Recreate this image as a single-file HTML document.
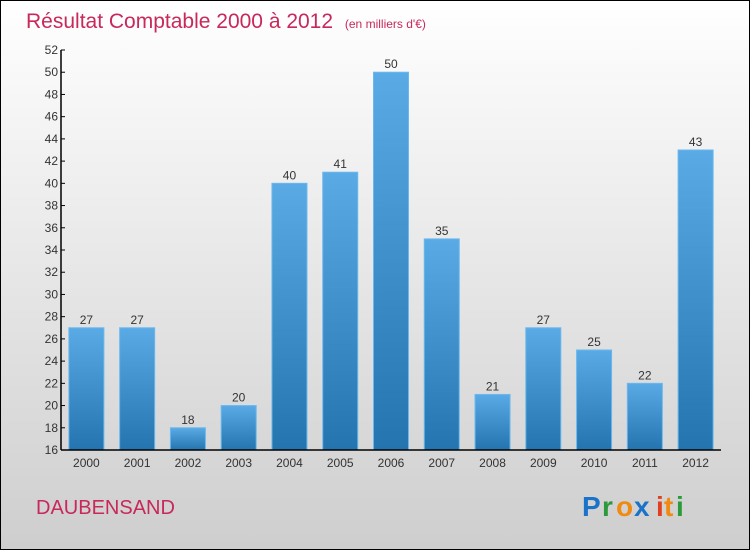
<!DOCTYPE html>
<html><head><meta charset="utf-8"><style>
body{margin:0}
#c{width:750px;height:550px;position:relative;font-family:"Liberation Sans",sans-serif}
</style></head><body>
<div id="c">
<svg width="750" height="550" id="svg">
<defs>
<linearGradient id="bg" x1="0" y1="0" x2="0" y2="1"><stop offset="0" stop-color="#ffffff"/><stop offset="1" stop-color="#cecece"/></linearGradient>
<linearGradient id="bar" x1="0" y1="0" x2="0" y2="1"><stop offset="0" stop-color="#5aaae6"/><stop offset="1" stop-color="#2474b0"/></linearGradient>
</defs>
<rect x="0.5" y="0.5" width="749" height="549" fill="url(#bg)" stroke="#000"/>
<text x="26" y="28" font-size="21" fill="#c8285a">Résultat Comptable 2000 à 2012 <tspan font-size="12" dx="6">(en milliers d'€)</tspan></text>
<g id="plot"></g>
<text x="36" y="514" font-size="20" fill="#c8285a">DAUBENSAND</text>
<g font-size="28" font-weight="bold">
<text x="582" y="516" fill="#1a73c8">P</text><text x="602" y="516" fill="#2a9a3a">r</text><text x="616" y="516" fill="#f08a10">o</text><text x="634" y="516" fill="#1a73c8">x</text><text x="656" y="516" fill="#e04020">i</text><text x="664" y="516" fill="#f08a10">t</text><text x="676" y="516" fill="#2a9a3a">i</text>
</g>
</svg>
</div>
<script>
const years=["2000","2001","2002","2003","2004","2005","2006","2007","2008","2009","2010","2011","2012"];
const values=[27,27,18,20,40,41,50,35,21,27,25,22,43];
const yTicks=[16,18,20,22,24,26,28,30,32,34,36,38,40,42,44,46,48,50,52];
const NS="http://www.w3.org/2000/svg";
const g=document.getElementById('plot');
const x0=61,x1=721,yTop=50,yBot=450,vmin=16,vmax=52;
const y=v=>yBot-(v-vmin)/(vmax-vmin)*(yBot-yTop);
const slot=(x1-x0)/years.length;
const xc=i=>x0+slot*(i+0.5);
function el(t,a,txt){const e=document.createElementNS(NS,t);for(const k in a)e.setAttribute(k,a[k]);if(txt!=null)e.textContent=txt;g.appendChild(e);return e;}
values.forEach((v,i)=>{
 const r=el('rect',{x:xc(i)-17.5,y:y(v),width:35,height:yBot-y(v),fill:'url(#bar)',stroke:'#6ab8ee','stroke-width':1});
 
 
 const t=el('text',{x:xc(i),y:y(v)-4,'text-anchor':'middle','font-size':12,fill:'#333'},v);
 
 
 const l=el('text',{x:xc(i),y:467,'text-anchor':'middle','font-size':12,fill:'#333'},years[i]);
 
 
});
yTicks.forEach(v=>{
 const tk=el('line',{x1:x0,x2:x0+4,y1:y(v),y2:y(v),stroke:'#000'});
 
 
 const t=el('text',{x:x0-3,y:y(v)+4,'text-anchor':'end','font-size':12,fill:'#333'},v);
 
 
});
const ya=el('line',{x1:x0,x2:x0,y1:yTop,y2:yBot,stroke:'#000','stroke-width':1.5});


const xa=el('line',{x1:x0,x2:x1,y1:yBot,y2:yBot,stroke:'#000','stroke-width':1.5});


</script>
</body></html>
